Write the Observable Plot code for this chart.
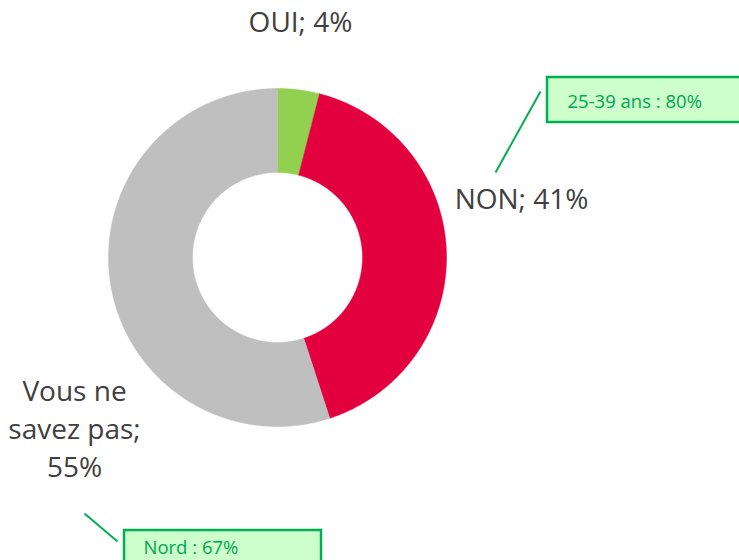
<!DOCTYPE html>
<html>
<head>
<meta charset="utf-8">
<script src="https://cdn.jsdelivr.net/npm/d3@7"></script>
<script src="https://cdn.jsdelivr.net/npm/@observablehq/plot@0.6"></script>
<style>
  html, body { margin: 0; padding: 0; background: #fff; }
  #chart svg { display: block; }
</style>
</head>
<body>
<div id="chart"></div>
<script>
// Data
const categories = ["OUI", "NON", "Vous ne savez pas"];
const values = [4, 41, 55];
const colors = ["#92D050", "#E3003E", "#BFBFBF"];
const labelLines = [["OUI; 4%"], ["NON; 41%"], ["Vous ne", "savez pas;", "55%"]];
const calloutTexts = ["25-39 ans : 80%", "Nord : 67%"];

// Layout (pixels)
const W = 739, H = 560;
const cx = 277, cy = 257, R = 169, r = 85;

// Build ring polygons from the data via d3.pie
const pie = d3.pie().sort(null).value(d => d.value);
const arcs = pie(categories.map((c, i) => ({ cat: c, value: values[i] })));
const pts = [];
for (const a of arcs) {
  const n = Math.max(4, Math.ceil((a.endAngle - a.startAngle) / 0.01));
  const ring = [];
  for (let k = 0; k <= n; k++) {
    const t = a.startAngle + (a.endAngle - a.startAngle) * k / n;
    ring.push([Math.sin(t), Math.cos(t)]);
  }
  for (let k = n; k >= 0; k--) {
    const t = a.startAngle + (a.endAngle - a.startAngle) * k / n;
    ring.push([Math.sin(t) * r / R, Math.cos(t) * r / R]);
  }
  ring.push(ring[0]);
  for (const [x, y] of ring) pts.push({ cat: a.data.cat, x, y });
}

// Convert pixel layout to data units (unit = outer radius)
const ux = px => (px - cx) / R;
const uy = py => (cy - py) / R;

const textFont = "'Open Sans', 'Noto Sans', sans-serif";
const labels = [
  { text: labelLines[0].join("\n"), x: ux(300), y: uy(31) },
  { text: labelLines[1].join("\n"), x: ux(521), y: uy(208) },
  { text: labelLines[2].join("\n"), x: ux(74), y: uy(476) }
];

const boxes = [
  { x1: ux(547), x2: ux(745), y1: uy(77), y2: uy(122) },
  { x1: ux(124), x2: ux(321), y1: uy(530), y2: uy(570) }
];
const leaders = [
  { x1: ux(540), y1: uy(91), x2: ux(495), y2: uy(172) },
  { x1: ux(84), y1: uy(513), x2: ux(117), y2: uy(541) }
];
const boxTexts = [
  { text: calloutTexts[0], x: ux(567), y: uy(107) },
  { text: calloutTexts[1], x: ux(143), y: uy(553) }
];

const plot = Plot.plot({
  width: W,
  height: H,
  margin: 0,
  style: { background: "#fff", overflow: "hidden" },
  x: { domain: [ux(0), ux(W)], range: [0, W], axis: null },
  y: { domain: [uy(H), uy(0)], range: [H, 0], axis: null },
  color: { domain: categories, range: colors },
  marks: [
    Plot.line(pts, { x: "x", y: "y", z: "cat", fill: "cat", stroke: "cat", strokeWidth: 0.5, curve: "linear" }),
    Plot.text(labels, {
      x: "x", y: "y", text: "text", fill: "#404040",
      fontSize: 28, fontFamily: textFont, textAnchor: "middle",
      lineAnchor: "bottom", lineHeight: 1.34
    }),
    Plot.link(leaders, { x1: "x1", y1: "y1", x2: "x2", y2: "y2", stroke: "#00B050", strokeWidth: 2 }),
    Plot.rect(boxes, { x1: "x1", x2: "x2", y1: "y1", y2: "y2", fill: "#CCFFCC", stroke: "#00B050", strokeWidth: 2.5 }),
    Plot.text(boxTexts, {
      x: "x", y: "y", text: "text", fill: "#00A650",
      fontSize: 18.5, fontFamily: textFont, textAnchor: "start", lineAnchor: "bottom"
    })
  ]
});

document.getElementById("chart").appendChild(plot);
</script>
</body>
</html>
